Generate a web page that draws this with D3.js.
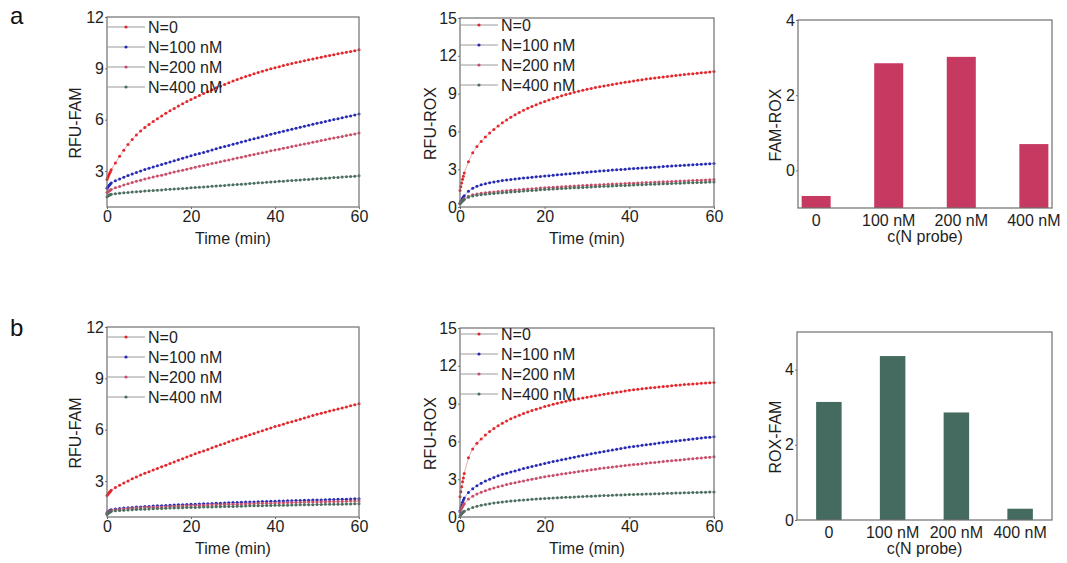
<!DOCTYPE html>
<html>
<head>
<meta charset="utf-8">
<script src="https://cdn.jsdelivr.net/npm/d3@7/dist/d3.min.js"></script>
<style>
  html, body { margin: 0; padding: 0; background: #fff; }
  svg { display: block; font-family: "Liberation Sans", Arial, sans-serif; }
</style>
</head>
<body>
<svg id="fig" width="1067" height="563"></svg>
<script>
// Sampling times (min): fine sampling over the first minute, then once per minute
const time = [0,0.2,0.4,0.6,0.8,1,2,3,4,5,6,7,8,9,10,11,12,13,14,15,16,17,18,19,20,
  21,22,23,24,25,26,27,28,29,30,31,32,33,34,35,36,37,38,39,40,
  41,42,43,44,45,46,47,48,49,50,51,52,53,54,55,56,57,58,59,60];

const seriesNames = ["N=0", "N=100 nM", "N=200 nM", "N=400 nM"];

// Row a, FAM channel
const famA_0   = [2.50,2.62,2.74,2.85,2.96,3.07, 3.47, 3.86,4.22,4.55,4.85,5.11,5.34,5.54,5.72, 5.89,6.06,6.22,6.37,6.52,6.66,6.80,6.93,7.06,7.18, 7.30,7.42,7.53,7.64,7.75,7.86,7.96,8.06,8.16,8.26, 8.35,8.44,8.52,8.60,8.68,8.76,8.83,8.90,8.97,9.04, 9.10,9.16,9.22,9.28,9.34,9.39,9.45,9.50,9.55,9.60, 9.65,9.70,9.75,9.80,9.85,9.89,9.94,9.98,10.03,10.08];
const famA_100 = [2.00,2.07,2.13,2.19,2.25,2.30, 2.43, 2.54,2.64,2.74,2.83,2.92,3.01,3.09,3.17, 3.24,3.31,3.39,3.46,3.53,3.60,3.67,3.75,3.82,3.89, 3.96,4.03,4.09,4.16,4.23,4.30,4.37,4.43,4.50,4.57, 4.63,4.70,4.76,4.83,4.89,4.95,5.02,5.08,5.15,5.21, 5.27,5.33,5.38,5.44,5.50,5.56,5.62,5.67,5.73,5.79, 5.84,5.90,5.95,6.01,6.06,6.11,6.17,6.22,6.28,6.33];
const famA_200 = [1.74,1.78,1.82,1.86,1.89,1.92, 2.02, 2.10,2.18,2.26,2.33,2.40,2.47,2.53,2.59, 2.65,2.71,2.76,2.82,2.88,2.94,3.00,3.05,3.11,3.17, 3.22,3.28,3.33,3.39,3.44,3.49,3.55,3.60,3.65,3.71, 3.76,3.81,3.86,3.92,3.97,4.02,4.07,4.12,4.18,4.23, 4.28,4.33,4.38,4.43,4.48,4.53,4.58,4.63,4.68,4.73, 4.78,4.83,4.88,4.93,4.98,5.02,5.07,5.12,5.17,5.22];
const famA_400 = [1.50,1.54,1.57,1.60,1.62,1.64, 1.68, 1.71,1.73,1.75,1.77,1.79,1.81,1.83,1.85, 1.87,1.88,1.90,1.92,1.93,1.95,1.97,1.98,2.00,2.02, 2.04,2.05,2.07,2.09,2.11,2.13,2.14,2.16,2.18,2.20, 2.22,2.23,2.25,2.27,2.29,2.31,2.32,2.34,2.36,2.38, 2.40,2.41,2.43,2.45,2.46,2.48,2.50,2.51,2.53,2.55, 2.57,2.58,2.60,2.62,2.63,2.65,2.67,2.68,2.70,2.72];

// Row a, ROX channel
const roxA_0   = [1.30,1.60,1.90,2.20,2.45,2.70, 3.60, 4.30,4.80,5.20,5.55,5.87,6.16,6.43,6.68, 6.91,7.12,7.32,7.50,7.67,7.83,7.98,8.12,8.25,8.38, 8.50,8.61,8.72,8.82,8.92,9.01,9.10,9.18,9.26,9.34, 9.41,9.48,9.55,9.61,9.67,9.73,9.79,9.84,9.90,9.95, 10.00,10.05,10.10,10.15,10.19,10.24,10.28,10.32,10.36,10.40, 10.44,10.48,10.51,10.55,10.58,10.62,10.65,10.68,10.72,10.75];
const roxA_100 = [0.30,0.45,0.58,0.70,0.80,0.90, 1.25, 1.48,1.64,1.76,1.85,1.93,1.99,2.05,2.10, 2.14,2.18,2.22,2.26,2.30,2.33,2.37,2.40,2.43,2.46, 2.49,2.52,2.55,2.58,2.61,2.64,2.67,2.70,2.73,2.76, 2.79,2.82,2.85,2.87,2.90,2.93,2.95,2.98,3.00,3.03, 3.05,3.08,3.10,3.12,3.14,3.16,3.18,3.21,3.23,3.25, 3.27,3.29,3.31,3.33,3.35,3.37,3.39,3.41,3.43,3.45];
const roxA_200 = [0.30,0.38,0.46,0.53,0.59,0.65, 0.85, 0.97,1.04,1.09,1.13,1.17,1.20,1.23,1.26, 1.29,1.32,1.34,1.37,1.40,1.42,1.45,1.47,1.50,1.52, 1.54,1.56,1.58,1.60,1.62,1.64,1.66,1.68,1.70,1.72, 1.74,1.75,1.77,1.78,1.80,1.82,1.83,1.85,1.86,1.88, 1.89,1.91,1.92,1.94,1.95,1.97,1.98,2.00,2.01,2.03, 2.04,2.06,2.07,2.09,2.10,2.12,2.13,2.15,2.16,2.18];
const roxA_400 = [0.25,0.33,0.41,0.48,0.54,0.60, 0.78, 0.88,0.94,0.98,1.02,1.05,1.08,1.11,1.13, 1.16,1.19,1.21,1.24,1.26,1.29,1.31,1.33,1.36,1.38, 1.40,1.42,1.44,1.46,1.48,1.50,1.52,1.53,1.55,1.57, 1.59,1.60,1.62,1.64,1.65,1.67,1.68,1.70,1.71,1.73, 1.74,1.76,1.77,1.79,1.80,1.81,1.83,1.84,1.85,1.87, 1.88,1.89,1.90,1.92,1.93,1.94,1.95,1.96,1.98,1.99];

// Row b, FAM channel
const famB_0   = [2.15,2.22,2.29,2.35,2.41,2.47, 2.62, 2.76,2.89,3.01,3.13,3.24,3.35,3.45,3.55, 3.65,3.74,3.84,3.93,4.03,4.12,4.22,4.31,4.41,4.50, 4.59,4.68,4.76,4.85,4.94,5.03,5.12,5.20,5.29,5.38, 5.46,5.54,5.62,5.70,5.78,5.86,5.94,6.02,6.10,6.18, 6.25,6.32,6.40,6.47,6.54,6.61,6.68,6.76,6.83,6.90, 6.96,7.02,7.09,7.15,7.21,7.27,7.33,7.40,7.46,7.52];
const famB_100 = [1.15,1.20,1.24,1.27,1.30,1.32, 1.37, 1.40,1.42,1.44,1.46,1.48,1.49,1.51,1.52, 1.54,1.55,1.56,1.57,1.59,1.60,1.61,1.62,1.63,1.64, 1.65,1.66,1.67,1.68,1.69,1.70,1.71,1.72,1.73,1.74, 1.75,1.76,1.77,1.77,1.78,1.79,1.80,1.81,1.82,1.82, 1.83,1.84,1.85,1.85,1.86,1.87,1.88,1.88,1.89,1.90, 1.90,1.91,1.92,1.92,1.93,1.94,1.94,1.95,1.96,1.96];
const famB_200 = [1.10,1.15,1.19,1.22,1.25,1.27, 1.32, 1.35,1.37,1.39,1.40,1.42,1.43,1.45,1.46, 1.47,1.48,1.49,1.50,1.51,1.52,1.53,1.54,1.55,1.56, 1.57,1.58,1.59,1.60,1.61,1.61,1.62,1.63,1.64,1.65, 1.65,1.66,1.67,1.68,1.68,1.69,1.70,1.70,1.71,1.72, 1.72,1.73,1.74,1.74,1.75,1.76,1.76,1.77,1.77,1.78, 1.79,1.79,1.80,1.80,1.81,1.81,1.82,1.83,1.83,1.84];
const famB_400 = [1.05,1.10,1.14,1.17,1.20,1.22, 1.26, 1.28,1.30,1.31,1.33,1.34,1.35,1.36,1.37, 1.38,1.39,1.40,1.41,1.42,1.43,1.43,1.44,1.45,1.46, 1.46,1.47,1.48,1.48,1.49,1.50,1.50,1.51,1.52,1.52, 1.53,1.53,1.54,1.55,1.55,1.56,1.56,1.57,1.57,1.58, 1.58,1.59,1.59,1.60,1.60,1.61,1.61,1.62,1.62,1.63, 1.63,1.64,1.64,1.65,1.65,1.65,1.66,1.66,1.67,1.67];

// Row b, ROX channel
const roxB_0   = [1.60,2.00,2.40,2.80,3.10,3.45, 4.70, 5.40,5.85,6.20,6.50,6.78,7.02,7.24,7.44, 7.62,7.79,7.94,8.08,8.21,8.33,8.45,8.56,8.66,8.76, 8.85,8.94,9.03,9.11,9.19,9.26,9.33,9.39,9.45,9.51, 9.57,9.63,9.69,9.75,9.80,9.85,9.90,9.95,10.00,10.05, 10.09,10.13,10.17,10.21,10.25,10.28,10.32,10.35,10.38,10.42, 10.45,10.48,10.51,10.53,10.56,10.58,10.61,10.63,10.66,10.68];
const roxB_100 = [0.50,0.75,0.98,1.18,1.35,1.50, 1.95, 2.25,2.48,2.68,2.85,3.00,3.14,3.27,3.39, 3.48,3.57,3.66,3.75,3.84,3.92,4.01,4.09,4.17,4.25, 4.32,4.40,4.47,4.54,4.61,4.68,4.75,4.82,4.88,4.95, 5.01,5.07,5.13,5.19,5.25,5.31,5.37,5.43,5.49,5.55, 5.60,5.64,5.69,5.73,5.78,5.82,5.87,5.91,5.96,6.00, 6.04,6.08,6.12,6.15,6.19,6.23,6.26,6.30,6.33,6.37];
const roxB_200 = [0.40,0.55,0.70,0.83,0.95,1.05, 1.42, 1.65,1.82,1.97,2.09,2.20,2.30,2.40,2.49, 2.57,2.65,2.72,2.79,2.86,2.93,3.00,3.06,3.13,3.19, 3.25,3.30,3.36,3.41,3.46,3.51,3.56,3.61,3.66,3.70, 3.75,3.79,3.84,3.88,3.92,3.96,4.00,4.04,4.08,4.12, 4.16,4.19,4.23,4.26,4.30,4.33,4.37,4.40,4.44,4.47, 4.50,4.53,4.56,4.60,4.63,4.66,4.69,4.72,4.75,4.78];
const roxB_400 = [0.10,0.18,0.26,0.33,0.39,0.45, 0.62, 0.75,0.85,0.93,1.00,1.06,1.11,1.16,1.20, 1.23,1.26,1.29,1.32,1.35,1.37,1.40,1.42,1.45,1.47, 1.49,1.51,1.52,1.54,1.56,1.57,1.59,1.61,1.62,1.64, 1.65,1.67,1.68,1.70,1.71,1.72,1.74,1.75,1.76,1.78, 1.79,1.80,1.81,1.82,1.83,1.84,1.85,1.86,1.88,1.89, 1.90,1.91,1.92,1.93,1.94,1.95,1.96,1.97,1.98,1.99];

// Bar panels
const probes = ["0", "100 nM", "200 nM", "400 nM"];
const famMinusRox = [-0.68, 2.85, 3.02, 0.70];
const roxMinusFam = [3.14, 4.36, 2.86, 0.30];

const timeTicks = [0, 20, 40, 60];
const famTicks = [3, 6, 9, 12];
const roxTicks = [0, 3, 6, 9, 12, 15];
const barTicks = [0, 2, 4];

// Styling
const dotColors  = ["#e3262b", "#2529b5", "#c84d69", "#4b6f5e"];
const lineColors = ["#e7a3a3", "#a3a5cf", "#dcaab4", "#a5b2aa"];
const frameColor = "#6f6f6f";
const textColor = "#1e1e1e";
const FONT = 16;

const svg = d3.select("#fig");

function frame(g, x0, x1, y0, y1) {
  g.append("rect")
    .attr("x", x0).attr("y", y0)
    .attr("width", x1 - x0).attr("height", y1 - y0)
    .attr("fill", "none").attr("stroke", frameColor).attr("stroke-width", 1.2);
}

function styleAxis(sel) {
  sel.select(".domain").remove();
  sel.selectAll(".tick line").attr("stroke", frameColor).attr("stroke-width", 1);
  sel.selectAll(".tick text").attr("fill", textColor).style("font-size", FONT + "px");
}

function yTitle(text, x, y) {
  svg.append("text")
    .attr("transform", `translate(${x},${y}) rotate(-90)`)
    .attr("text-anchor", "middle")
    .attr("dominant-baseline", "central")
    .attr("fill", textColor)
    .style("font-size", FONT + "px")
    .text(text);
}

function xTitle(text, x, y) {
  svg.append("text")
    .attr("x", x).attr("y", y)
    .attr("text-anchor", "middle")
    .attr("dominant-baseline", "central")
    .attr("fill", textColor)
    .style("font-size", FONT + "px")
    .text(text);
}

function curvePanel(opt) {
  const g = svg.append("g");
  const x = d3.scaleLinear().domain([0, 60]).range([opt.x0, opt.x1]);
  const y = d3.scaleLinear().domain(opt.yDomain).range([opt.y1, opt.y0]);

  // curves: thin connecting line + small markers at each sample
  opt.series.forEach((vals, i) => {
    const n = Math.min(vals.length, time.length);
    const pts = d3.range(n).map(k => [time[k], vals[k]]);
    const line = d3.line().x(d => x(d[0])).y(d => y(d[1]));
    g.append("path").datum(pts)
      .attr("d", line).attr("fill", "none")
      .attr("stroke", lineColors[i]).attr("stroke-width", 0.9);
    g.selectAll(null).data(pts).enter().append("circle")
      .attr("cx", d => x(d[0])).attr("cy", d => y(d[1]))
      .attr("r", 1.5).attr("fill", dotColors[i]);
  });

  frame(g, opt.x0, opt.x1, opt.y0, opt.y1);

  const ax = g.append("g").attr("transform", `translate(0,${opt.y1})`)
    .call(d3.axisBottom(x).tickValues(timeTicks).tickSize(2).tickPadding(2).tickFormat(d3.format("d")));
  styleAxis(ax);
  const ay = g.append("g").attr("transform", `translate(${opt.x0},0)`)
    .call(d3.axisLeft(y).tickValues(opt.yTicks).tickSize(2).tickPadding(1).tickFormat(d3.format("d")));
  styleAxis(ay);

  // legend
  const lg = g.append("g");
  seriesNames.forEach((name, i) => {
    const ly = opt.y0 + opt.legendTop + i * 20;
    lg.append("line")
      .attr("x1", opt.x0).attr("x2", opt.x0 + 38)
      .attr("y1", ly).attr("y2", ly)
      .attr("stroke", "#9a9a9a").attr("stroke-width", 1);
    lg.append("circle").attr("cx", opt.x0 + 19).attr("cy", ly)
      .attr("r", 1.6).attr("fill", dotColors[i]);
    lg.append("text")
      .attr("x", opt.x0 + 41).attr("y", ly)
      .attr("dominant-baseline", "central")
      .attr("fill", textColor)
      .style("font-size", FONT + "px")
      .text(name);
  });

  xTitle("Time (min)", (opt.x0 + opt.x1) / 2, opt.y1 + 31);
  yTitle(opt.yLabel, opt.yLabelX, (opt.y0 + opt.y1) / 2 + 11);
}

function barPanel(opt) {
  const g = svg.append("g");
  const x = d3.scaleBand().domain(probes).range([opt.x0, opt.x1])
    .paddingInner(0.6).paddingOuter(opt.padOuter);
  const y = d3.scaleLinear().domain(opt.yDomain).range([opt.y1, opt.y0]);
  const base = opt.yDomain[0];

  g.selectAll(null).data(opt.values).enter().append("rect")
    .attr("x", (d, i) => x(probes[i]))
    .attr("width", x.bandwidth())
    .attr("y", d => y(d))
    .attr("height", d => y(base) - y(d))
    .attr("fill", opt.color);

  frame(g, opt.x0, opt.x1, opt.y0, opt.y1);

  const ax = g.append("g").attr("transform", `translate(0,${opt.y1})`)
    .call(d3.axisBottom(x).tickSize(0).tickPadding(7));
  styleAxis(ax);
  const ay = g.append("g").attr("transform", `translate(${opt.x0},0)`)
    .call(d3.axisLeft(y).tickValues(barTicks).tickSize(2).tickPadding(1).tickFormat(d3.format("d")));
  styleAxis(ay);

  xTitle("c(N probe)", (opt.x0 + opt.x1) / 2, opt.y1 + 28);
  yTitle(opt.yLabel, opt.yLabelX, (opt.y0 + opt.y1) / 2 + 11);
}

// Row a
curvePanel({ x0: 107, x1: 359, y0: 17, y1: 207, yDomain: [0.9, 12], yTicks: famTicks,
  series: [famA_0, famA_100, famA_200, famA_400], legendTop: 10, yLabel: "RFU-FAM", yLabelX: 75 });
curvePanel({ x0: 460, x1: 714, y0: 18, y1: 207, yDomain: [0, 15], yTicks: roxTicks,
  series: [roxA_0, roxA_100, roxA_200, roxA_400], legendTop: 7, yLabel: "RFU-ROX", yLabelX: 430 });
barPanel({ x0: 798, x1: 1052, y0: 20, y1: 208, yDomain: [-1, 4], padOuter: 0.05,
  values: famMinusRox, color: "#c63a62", yLabel: "FAM-ROX", yLabelX: 775 });

// Row b
curvePanel({ x0: 107, x1: 359, y0: 327, y1: 517, yDomain: [0.9, 12], yTicks: famTicks,
  series: [famB_0, famB_100, famB_200, famB_400], legendTop: 10, yLabel: "RFU-FAM", yLabelX: 75 });
curvePanel({ x0: 460, x1: 714, y0: 328, y1: 517, yDomain: [0, 15], yTicks: roxTicks,
  series: [roxB_0, roxB_100, roxB_200, roxB_400], legendTop: 6, yLabel: "RFU-ROX", yLabelX: 430 });
barPanel({ x0: 797, x1: 1052, y0: 332, y1: 520, yDomain: [0, 5], padOuter: 0.3,
  values: roxMinusFam, color: "#456a60", yLabel: "ROX-FAM", yLabelX: 775 });

// Row letters
svg.append("text").attr("x", 10).attr("y", 24).attr("fill", "#111")
  .style("font-size", "24px").text("a");
svg.append("text").attr("x", 10).attr("y", 336).attr("fill", "#111")
  .style("font-size", "24px").text("b");
</script>
</body>
</html>
